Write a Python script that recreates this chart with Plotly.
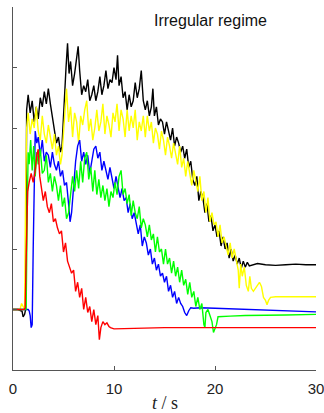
import plotly.graph_objects as go

# ---- data ----
t_black = [0, 0.5, 0.9, 1.0, 1.15, 1.25, 1.35, 1.5, 1.7, 1.9,
           2.1, 2.3, 2.5, 2.7, 2.9, 3.1, 3.3, 3.5, 3.7, 3.9,
           4.1, 4.3, 4.5, 4.7, 4.85, 5.0, 5.1, 5.25, 5.4, 5.55,
           5.7, 5.9, 6.1, 6.3, 6.45, 6.6, 6.8, 7.0, 7.2, 7.4,
           7.6, 7.8, 8.0, 8.2, 8.4, 8.6, 8.8, 9.0, 9.2, 9.4,
           9.6, 9.8, 10.0, 10.2, 10.35, 10.5, 10.7, 10.9, 11.1, 11.3,
           11.5, 11.7, 11.9, 12.1, 12.3, 12.5, 12.7, 12.9, 13.1, 13.3,
           13.5, 13.7, 13.85, 14.0, 14.2, 14.4, 14.6, 14.8, 15.0, 15.2,
           15.4, 15.6, 15.8, 16.0, 16.2, 16.4, 16.6, 16.8, 17.0, 17.2,
           17.4, 17.6, 17.8, 18.0, 18.2, 18.4, 18.6, 18.8, 19.0, 19.2,
           19.4, 19.6, 19.8, 20.0, 20.2, 20.4, 20.6, 20.8, 21.0, 21.2,
           21.4, 21.6, 21.8, 22.0, 22.2, 22.4, 22.6, 22.8, 23.0, 23.2,
           23.4, 23.7, 24.2, 25, 26, 27, 28, 29, 30]
v_black = [1.0, 1.0, 0.97, 0.88, 0.92, 1.0, 4.3, 4.55, 4.25, 4.45,
           4.1, 4.35, 4.15, 4.5, 4.35, 4.6, 4.4, 4.65, 4.4, 4.2,
           4.0, 3.75, 3.85, 3.6, 3.7, 4.2, 4.7, 5.0, 5.4, 4.9,
           5.1, 4.7, 4.9, 5.2, 5.35, 4.95, 4.55, 4.7, 4.6, 4.8,
           4.45, 4.55, 4.7, 4.45, 4.6, 4.85, 4.55, 4.7, 4.95, 4.65,
           4.8, 4.75, 5.0, 4.8, 5.2, 4.7, 4.85, 4.5, 4.6, 4.3,
           4.55, 4.35, 4.45, 4.75, 4.5, 4.65, 4.95, 4.45, 4.3, 4.45,
           4.2, 4.35, 4.65, 4.2, 4.35, 4.05, 4.15, 4.1, 3.9, 4.1,
           3.95, 3.8, 4.0, 3.7, 3.85, 3.75, 3.6, 3.7, 3.5, 3.65,
           3.35, 3.45, 3.15, 3.05, 3.2, 2.8, 2.95, 2.85, 2.6, 2.75,
           2.45, 2.55, 2.3, 2.4, 2.2, 2.3, 2.05, 2.2, 2.0, 2.1,
           1.85, 2.0, 1.8, 1.9, 1.75, 1.85, 1.68, 1.8, 1.7, 1.78,
           1.72, 1.74, 1.76, 1.74, 1.73, 1.74, 1.75, 1.74, 1.74]

t_yellow = [0, 0.7, 0.85, 1.0, 1.15, 1.25, 1.35, 1.5, 1.7, 1.9,
            2.1, 2.3, 2.5, 2.7, 2.9, 3.1, 3.3, 3.5, 3.7, 3.9,
            4.1, 4.3, 4.5, 4.7, 4.85, 5.0, 5.15, 5.3, 5.5, 5.7,
            5.9, 6.1, 6.3, 6.5, 6.7, 6.9, 7.1, 7.3, 7.5, 7.7,
            7.9, 8.1, 8.3, 8.5, 8.7, 8.9, 9.1, 9.3, 9.5, 9.7,
            9.9, 10.1, 10.3, 10.5, 10.7, 10.9, 11.1, 11.3, 11.5, 11.7,
            11.9, 12.1, 12.3, 12.5, 12.7, 12.9, 13.1, 13.3, 13.5, 13.7,
            13.9, 14.1, 14.3, 14.5, 14.7, 14.9, 15.1, 15.3, 15.5, 15.7,
            15.9, 16.1, 16.3, 16.5, 16.7, 16.9, 17.1, 17.3, 17.5, 17.7,
            17.9, 18.1, 18.3, 18.5, 18.7, 18.9, 19.1, 19.3, 19.5, 19.7,
            19.9, 20.1, 20.3, 20.5, 20.7, 20.9, 21.1, 21.3, 21.5, 21.7,
            21.9, 22.1, 22.3, 22.4, 22.55, 22.7, 22.9, 23.1, 23.3, 23.45,
            23.6, 23.8, 24.0, 24.2, 24.4, 24.6, 24.8, 25.0, 25.15, 25.3,
            25.5, 26, 27, 28, 29, 30]
v_yellow = [1.0, 1.0, 1.1, 1.05, 1.0, 3.0, 4.0, 4.25, 3.9, 4.15,
            4.0, 4.35, 3.95, 3.8, 4.2, 3.9, 3.75, 4.05, 3.85, 3.65,
            3.9, 3.55, 3.7, 3.4, 3.55, 3.9, 4.3, 4.65, 4.1, 4.35,
            3.85, 4.25, 4.1, 3.75, 4.2, 4.05, 4.3, 4.45, 3.95, 4.15,
            3.8, 4.0, 4.3, 3.95, 4.1, 4.4, 3.9, 4.2, 4.05, 3.85,
            4.25, 4.1, 4.4, 3.95, 4.3, 4.15, 3.85, 4.3, 3.95, 4.2,
            4.0, 4.3, 3.8, 4.1, 3.95, 4.2, 3.85, 4.2, 3.95, 4.1,
            3.75, 4.0, 3.9, 3.65, 3.95, 3.8, 3.55, 3.85, 3.7, 3.5,
            3.75, 3.55, 3.4, 3.7, 3.35, 3.5, 3.2, 3.45, 3.25, 3.05,
            3.3, 3.1, 2.95, 3.2, 2.8, 2.95, 2.6, 2.85, 2.45, 2.6,
            2.4, 2.45, 2.2, 2.4, 2.1, 2.2, 2.05, 1.9, 2.1, 1.85,
            2.0, 1.8, 1.65, 1.35, 1.75, 1.55, 1.7, 1.4, 1.3, 1.55,
            1.35, 1.3, 1.35, 1.42, 1.45, 1.38, 1.2, 1.15, 1.08, 1.15,
            1.2, 1.21, 1.21, 1.21, 1.21, 1.21]

t_blue = [0, 1.5, 1.6, 1.7, 1.8, 1.9, 2.0, 2.1, 2.2, 2.35,
          2.5, 2.7, 2.9, 3.1, 3.3, 3.5, 3.7, 3.9, 4.1, 4.3,
          4.5, 4.7, 4.9, 5.1, 5.3, 5.5, 5.65, 5.8, 6.0, 6.2,
          6.4, 6.6, 6.8, 7.0, 7.2, 7.4, 7.6, 7.8, 8.0, 8.2,
          8.4, 8.6, 8.8, 9.0, 9.2, 9.4, 9.6, 9.8, 10.0, 10.2,
          10.4, 10.6, 10.8, 11.0, 11.2, 11.4, 11.6, 11.8, 12.0, 12.2,
          12.4, 12.6, 12.8, 13.0, 13.2, 13.4, 13.6, 13.8, 14.0, 14.2,
          14.4, 14.6, 14.8, 15.0, 15.2, 15.4, 15.6, 15.8, 16.0, 16.2,
          16.4, 16.6, 16.8, 17.0, 17.2, 17.4, 17.6, 17.9, 18.5, 20,
          22, 25, 28, 30]
v_blue = [1.0, 1.0, 0.98, 0.9, 0.7, 0.75, 2.0, 3.5, 3.95, 3.75,
          3.85, 3.55, 3.8, 3.45, 3.6, 3.55, 3.35, 3.6, 3.4, 3.3,
          3.45, 3.2, 3.3, 3.05, 3.1, 2.75, 2.45, 2.6, 3.1, 3.45,
          3.7, 3.8, 3.45, 3.6, 3.4, 3.55, 3.25, 3.45, 3.65, 3.7,
          3.5, 3.6, 3.3, 3.45, 3.3, 3.15, 3.35, 3.2, 3.0, 3.2,
          3.0, 2.85, 3.0, 2.8, 2.85, 2.6, 2.75, 2.5, 2.6, 2.45,
          2.25, 2.4, 2.05, 2.2, 2.1, 1.9, 2.0, 1.75, 1.85, 1.65,
          1.75, 1.55, 1.6, 1.45, 1.55, 1.3, 1.4, 1.2, 1.3, 1.1,
          1.2, 1.1, 1.05, 0.95, 0.9, 0.98, 1.03, 1.02, 1.03, 1.02,
          1.01, 0.99, 0.97, 0.96]

t_green = [0, 1.3, 1.4, 1.5, 1.6, 1.75, 1.9, 2.05, 2.2, 2.35,
           2.5, 2.7, 2.9, 3.1, 3.3, 3.5, 3.7, 3.9, 4.1, 4.3,
           4.5, 4.7, 4.9, 5.1, 5.3, 5.5, 5.7, 5.9, 6.1, 6.3,
           6.5, 6.7, 6.9, 7.1, 7.3, 7.5, 7.7, 7.9, 8.1, 8.3,
           8.5, 8.7, 8.9, 9.1, 9.3, 9.5, 9.7, 9.9, 10.1, 10.3,
           10.5, 10.7, 10.9, 11.1, 11.3, 11.5, 11.7, 11.9, 12.1, 12.3,
           12.5, 12.7, 12.9, 13.1, 13.3, 13.5, 13.7, 13.9, 14.1, 14.3,
           14.5, 14.7, 14.9, 15.1, 15.3, 15.5, 15.7, 15.9, 16.1, 16.3,
           16.5, 16.7, 16.9, 17.1, 17.3, 17.5, 17.7, 17.9, 18.1, 18.3,
           18.5, 18.7, 18.9, 19.0, 19.1, 19.3, 19.5, 19.7, 19.85, 20.0,
           20.15, 20.3, 20.5, 21.5, 23, 25, 27, 30]
v_green = [1.0, 1.0, 2.5, 3.6, 3.4, 3.8, 3.3, 3.7, 3.2, 3.6,
           3.4, 3.65, 3.25, 3.3, 3.55, 3.1, 3.25, 2.95, 3.2, 3.05,
           2.8, 3.05, 2.7, 2.85, 2.5, 2.6, 2.9, 3.2, 2.95, 3.3,
           3.0, 3.45, 3.1, 3.5, 3.6, 3.15, 3.35, 2.95, 3.3, 2.9,
           3.15, 2.85, 3.05, 2.8, 3.0, 2.7, 2.95, 2.85, 3.1, 2.9,
           3.2, 3.3, 2.9, 3.0, 2.75, 2.9, 2.55, 2.8, 2.6, 2.5,
           2.7, 2.35, 2.5, 2.4, 2.2, 2.4, 2.15, 2.25, 1.95, 2.2,
           1.95, 2.0, 1.75, 2.0, 1.75, 1.85, 1.6, 1.8, 1.55, 1.7,
           1.45, 1.65, 1.4, 1.5, 1.25, 1.45, 1.2, 1.3, 1.05, 1.2,
           1.0, 1.1, 0.75, 0.7, 0.95, 1.0, 0.9, 0.8, 0.62, 0.68,
           0.75, 0.88, 0.88, 0.89, 0.9, 0.91, 0.91, 0.92]

t_red = [0, 1.1, 1.2, 1.3, 1.45, 1.6, 1.8, 2.0, 2.2, 2.35,
         2.5, 2.65, 2.8, 3.0, 3.2, 3.4, 3.6, 3.8, 4.0, 4.2,
         4.4, 4.6, 4.8, 5.0, 5.2, 5.4, 5.6, 5.8, 6.0, 6.2,
         6.4, 6.6, 6.8, 7.0, 7.2, 7.4, 7.6, 7.8, 8.0, 8.2,
         8.4, 8.55, 8.7, 8.9, 9.1, 9.3, 9.5, 9.65, 10, 12,
         15, 20, 25, 30]
v_red = [1.0, 1.0, 1.02, 2.0, 2.95, 3.1, 3.25, 3.1, 3.3, 3.55,
         3.65, 3.2, 3.0, 2.8, 2.95, 2.7, 2.6, 2.75, 2.45, 2.5,
         2.35, 2.25, 2.3, 1.95, 2.1, 1.8, 1.7, 1.6, 1.65, 1.3,
         1.45, 1.2, 1.35, 1.0, 1.2, 0.95, 1.05, 0.8, 1.0, 0.75,
         0.9, 0.5, 0.7, 0.8, 0.75, 0.78, 0.72, 0.7, 0.68, 0.69,
         0.7, 0.7, 0.7, 0.7]

x_ticks = [0, 10, 20, 30]
y_ticks = [0, 1, 2, 3, 4, 5, 6]
title_text = "Irregular regime"
x_title = "<i>t</i> / s"

series = [
    (t_black, v_black, "#000000"),
    (t_yellow, v_yellow, "#ffff00"),
    (t_blue, v_blue, "#0000ff"),
    (t_green, v_green, "#00ff00"),
    (t_red, v_red, "#ff0000"),
]

FIG_W, FIG_H = 324, 413
M_L, M_R, M_T, M_B = 13, 8, 7, 43
plot_h = FIG_H - M_T - M_B

fig = go.Figure()
for tx, vy, col in series:
    fig.add_trace(go.Scatter(x=tx, y=vy, mode="lines",
                             line=dict(color=col, width=1.4),
                             showlegend=False, hoverinfo="skip"))

fig.add_annotation(x=19.6, y=5.77, xref="x", yref="y", text=title_text,
                   showarrow=False, xanchor="center", yanchor="middle",
                   font=dict(family="Liberation Sans, Arial, sans-serif", size=16, color="#111"))

fig.add_annotation(x=0.5, y=-33 / plot_h, xref="x domain", yref="paper",
                   text=x_title, showarrow=False, xanchor="center", yanchor="middle",
                   font=dict(family="Liberation Serif, DejaVu Serif, serif", size=18, color="#222"))

fig.update_layout(
    width=FIG_W, height=FIG_H,
    margin=dict(l=M_L, r=M_R, t=M_T, b=M_B, pad=0),
    paper_bgcolor="white", plot_bgcolor="white",
    xaxis=dict(range=[0, 30], tickvals=x_ticks, ticktext=[str(v) for v in x_ticks],
               ticks="inside", ticklen=4, tickcolor="#555", showline=True, linecolor="#555",
               linewidth=1, showgrid=False, zeroline=False, automargin=False,
               ticklabelstandoff=5, ticklabeloverflow="allow",
               tickfont=dict(family="Liberation Sans, Arial, sans-serif", size=15, color="#222")),
    yaxis=dict(range=[0, 6], tickvals=y_ticks, showticklabels=False, automargin=False,
               ticks="inside", ticklen=4, tickcolor="#555", showline=True, linecolor="#555",
               linewidth=1, showgrid=False, zeroline=False),
)

# remove the default page margin so the figure fills the window exactly
fig.write_html("out.html", config={"displayModeBar": False},
               post_script="document.body.style.margin='0';document.body.style.overflow='hidden';")
